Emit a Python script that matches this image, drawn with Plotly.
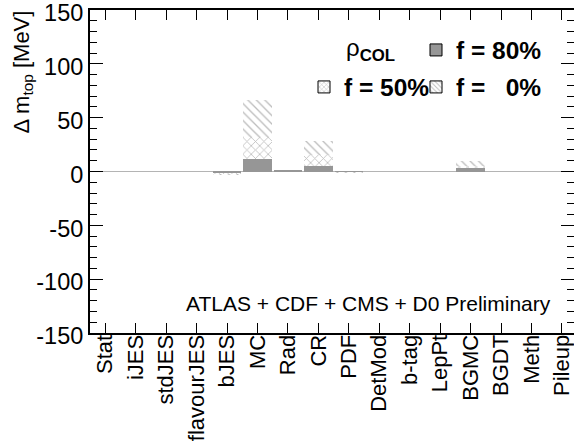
import plotly.graph_objects as go

categories = ["Stat", "iJES", "stdJES", "flavourJES", "bJES", "MC", "Rad", "CR",
              "PDF", "DetMod", "b-tag", "LepPt", "BGMC", "BGDT", "Meth", "Pileup"]
f0_vals = [0, 0, 0, 0, -3.5, 66, 1.5, 28, -0.5, 0, 0, 0, 9.5, 0, 0, 0]
f50_vals = [0, 0, 0, 0, -2.0, 32, 1.0, 15.5, -0.3, 0, 0, 0, 5.5, 0, 0, 0]
f80_vals = [0, 0, 0, 0, -0.8, 12, 0.5, 5.5, -0.1, 0, 0, 0, 3.0, 0, 0, 0]
y_ticks = [-150, -100, -50, 0, 50, 100, 150]
y_tick_labels = ["-150", "-100", "-50", "0", "50", "100", "150"]

FONT = "Liberation Sans, Arial, Helvetica, sans-serif"
W, H = 574, 448
L, R, T, B = 90, 0, 10, 115
GRAY = "#969696"
HATCH = "#7a7a7a"

fig = go.Figure()

# data bars (overlaid, largest drawn first)
fig.add_trace(go.Bar(x=categories, y=f0_vals, width=0.93, showlegend=False,
                     marker=dict(color="white", line=dict(width=0),
                                 pattern=dict(shape="\\", fgcolor=HATCH, bgcolor="white",
                                              size=6, solidity=0.22, fillmode="overlay"))))
fig.add_trace(go.Bar(x=categories, y=f50_vals, width=0.93, showlegend=False,
                     marker=dict(color="white", line=dict(width=0),
                                 pattern=dict(shape="x", fgcolor=HATCH, bgcolor="white",
                                              size=6, solidity=0.25, fillmode="overlay"))))
fig.add_trace(go.Bar(x=categories, y=f80_vals, width=0.93, showlegend=False,
                     marker=dict(color=GRAY, line=dict(width=0))))

# legend-only entries
fig.add_trace(go.Bar(x=[categories[0]], y=[None], name="f = 80%", legend="legend",
                     marker=dict(color=GRAY, line=dict(color="black", width=1))))
fig.add_trace(go.Bar(x=[categories[0]], y=[None], name="f = 50%", legend="legend2",
                     marker=dict(color="white", line=dict(color="black", width=1),
                                 pattern=dict(shape="x", fgcolor=HATCH, bgcolor="white",
                                              size=4, solidity=0.3, fillmode="overlay"))))
fig.add_trace(go.Bar(x=[categories[0]], y=[None], name="f = \u20070%", legend="legend3",
                     marker=dict(color="white", line=dict(color="black", width=1),
                                 pattern=dict(shape="\\", fgcolor=HATCH, bgcolor="white",
                                              size=4, solidity=0.3, fillmode="overlay"))))

pw = W - L - R
ph = H - T - B

# convert screen pixel positions to paper coords
def px_x(x):
    return (x - L) / pw

def px_y(y):
    return (H - B - y) / ph

leg_font = dict(family=FONT, size=24.5, color="black", weight="bold")
leg_common = dict(xref="paper", yref="paper", xanchor="left", yanchor="middle",
                  bgcolor="rgba(0,0,0,0)", borderwidth=0, font=leg_font,
                  itemclick=False, itemdoubleclick=False)

fig.update_layout(
    width=W, height=H,
    margin=dict(l=L, r=R, t=T, b=B, pad=0, autoexpand=False),
    paper_bgcolor="white", plot_bgcolor="white",
    barmode="overlay", bargap=0,
    font=dict(family=FONT, size=21, color="black"),
    legend=dict(x=px_x(438 - 22), y=px_y(50), **leg_common),
    legend2=dict(x=px_x(326 - 22), y=px_y(87), **leg_common),
    legend3=dict(x=px_x(438 - 22), y=px_y(87), **leg_common),
    xaxis=dict(
        range=[-0.5, -0.5 + pw / 30.45],
        type="category",
        showline=True, linecolor="black", linewidth=2, mirror="ticks",
        ticks="inside", ticklen=10, tickwidth=1, tickcolor="black",
        tickangle=-90, tickfont=dict(family=FONT, size=22),
        ticklabelstandoff=-9,
        showgrid=False, zeroline=False, fixedrange=True, automargin=False,
        ticklabeloverflow="allow",
    ),
    yaxis=dict(
        range=[-150, 150],
        tickvals=y_ticks, ticktext=y_tick_labels,
        showline=True, linecolor="black", linewidth=2, mirror="ticks",
        ticks="inside", ticklen=13, tickwidth=1, tickcolor="black",
        minor=dict(dtick=10, ticks="inside", ticklen=7, tickcolor="black", tickwidth=1),
        tickfont=dict(family=FONT, size=23.5),
        ticklabelshift=3,
        showgrid=False, zeroline=True, zerolinecolor="#b4b4b4", zerolinewidth=1,
        fixedrange=True, automargin=False, ticklabeloverflow="allow",
    ),
    annotations=[
        dict(text="\u0394 m<sub>top</sub> [MeV]", textangle=-90, showarrow=False,
             xref="paper", yref="paper", x=px_x(23), y=px_y(9),
             xanchor="center", yanchor="top", font=dict(family=FONT, size=22)),
        dict(text="ATLAS + CDF + CMS + D0 Preliminary", showarrow=False,
             xref="paper", yref="paper", x=px_x(553), y=px_y(303),
             xanchor="right", yanchor="middle", font=dict(family=FONT, size=21)),
        dict(text="\u03c1<sub><b>COL</b></sub>", showarrow=False,
             xref="paper", yref="paper", x=px_x(370), y=px_y(50),
             xanchor="center", yanchor="middle", font=dict(family=FONT, size=24)),
    ],
)

fig.write_html("out.html", config={"displayModeBar": False},
               post_script="document.body.style.margin='0';document.body.style.overflow='hidden';")
